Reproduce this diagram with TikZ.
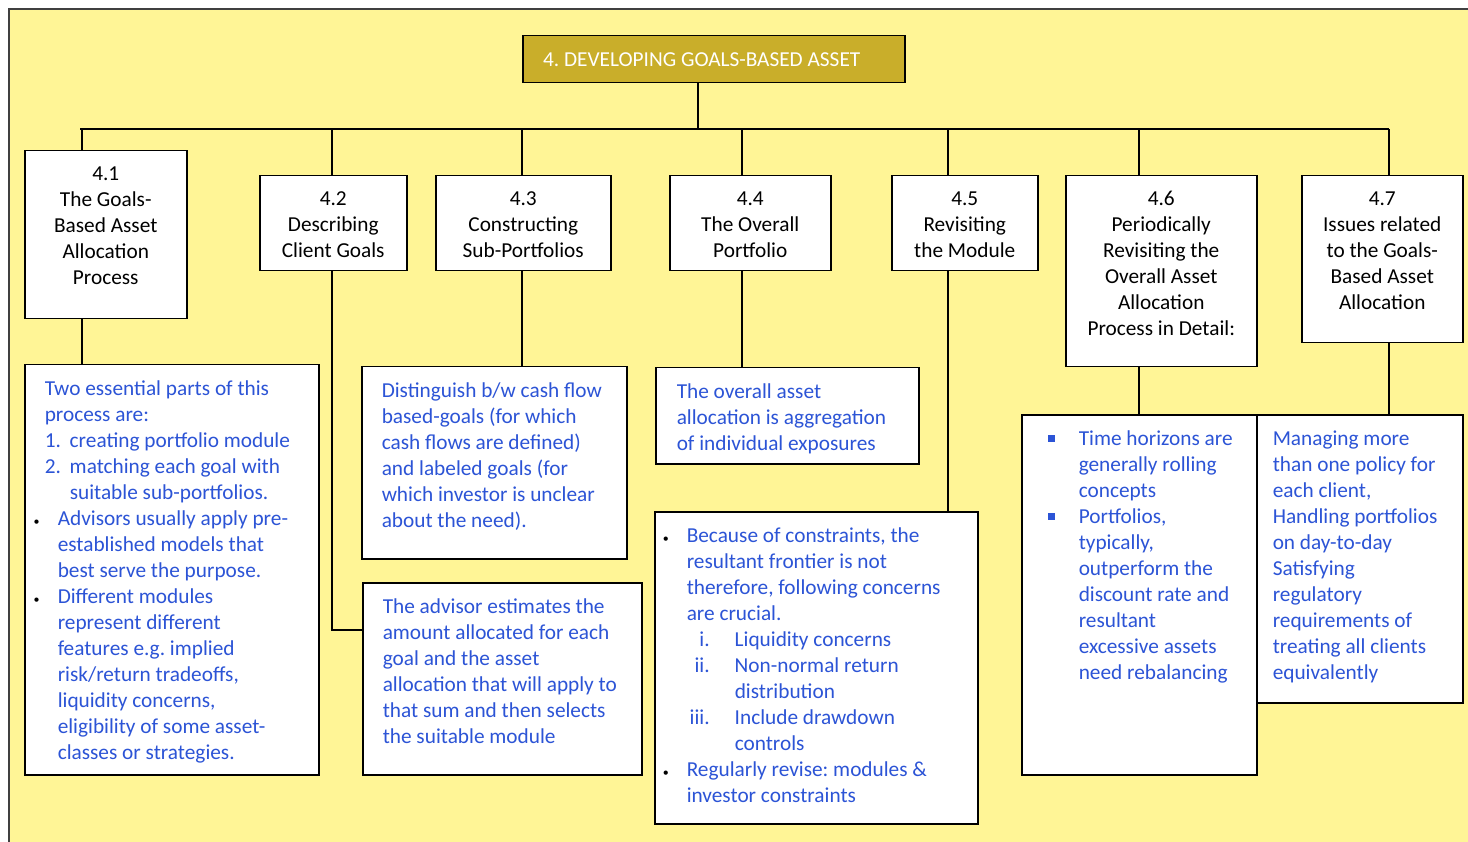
\documentclass[tikz,border=0pt]{standalone}
\usepackage{fontspec}
\setmainfont{Carlito}
\usetikzlibrary{calc}
\frenchspacing
\definecolor{bgyellow}{RGB}{255,245,150}
\definecolor{gold}{RGB}{201,174,42}
\definecolor{textblue}{RGB}{44,84,214}
\newcommand{\cardtext}[3]{\begin{minipage}[t][#2][t]{#1}\centering\rule{0pt}{30pt}#3\end{minipage}}
\newcommand{\detailtext}[3]{\begin{minipage}[t][#2][t]{#1}\raggedright\color{textblue}\rule{0pt}{31pt}#3\end{minipage}}
\newcommand{\blt}{\textcolor{black}{\fontsize{12}{12}\selectfont\textbullet}}
\newcommand{\sqblt}{\rule[3.5pt]{7pt}{7pt}}
\tikzset{
  card/.style={draw,line width=1.5pt,fill=white,anchor=north west,inner sep=0pt},
  link/.style={line width=1.6pt}
}
\begin{document}
\begin{tikzpicture}[x=1pt,y=-1pt,font=\fontsize{21.3}{26}\selectfont]
    \useasboundingbox (0,0) rectangle (1468,842);
    \fill[bgyellow] (9,9) rectangle (1468,842);
    \draw[line width=1.5pt,black!75] (9,842) -- (9,9) -- (1468,9);

    \node[card,fill=gold,text=white,minimum width=382pt,minimum height=47pt] (title) at (522,35) {\hspace*{-24pt}4. DEVELOPING GOALS-BASED ASSET};

    \node[card] (g41) at (24,150) {\cardtext{162pt}{168pt}{4.1\\The Goals-\\Based Asset\\Allocation\\Process}};
    \node[card] (g42) at (259,175) {\cardtext{147pt}{95pt}{4.2\\Describing\\Client Goals}};
    \node[card] (g43) at (435,175) {\cardtext{175pt}{95pt}{4.3\\Constructing\\Sub-Portfolios}};
    \node[card] (g44) at (669,175) {\cardtext{161pt}{95pt}{4.4\\The Overall\\Portfolio}};
    \node[card] (g45) at (891,175) {\cardtext{146pt}{95pt}{4.5\\Revisiting\\the Module}};
    \node[card] (g46) at (1065,175) {\cardtext{191pt}{191pt}{4.6\\Periodically\\Revisiting the\\Overall Asset\\Allocation\\Process in Detail:}};
    \node[card] (g47) at (1301,175) {\cardtext{161pt}{167pt}{4.7\\Issues related\\to the Goals-\\Based Asset\\Allocation}};

    \node[card] (d41) at (24,364) {\detailtext{294pt}{410pt}{%
      \hspace*{20pt}Two essential parts of this\\
      \hspace*{20pt}process are:\\
      \hspace*{20pt}\makebox[25pt][l]{1.}creating portfolio module\\
      \hspace*{20pt}\makebox[25pt][l]{2.}matching each goal with\\
      \hspace*{45pt}suitable sub-portfolios.\\
      \hspace*{9pt}\makebox[24pt][l]{\blt}Advisors usually apply pre-\\
      \hspace*{33pt}established models that\\
      \hspace*{33pt}best serve the purpose.\\
      \hspace*{9pt}\makebox[24pt][l]{\blt}Different modules\\
      \hspace*{33pt}represent different\\
      \hspace*{33pt}features e.g. implied\\
      \hspace*{33pt}risk/return tradeoffs,\\
      \hspace*{33pt}liquidity concerns,\\
      \hspace*{33pt}eligibility of some asset-\\
      \hspace*{33pt}classes or strategies.}};
    \node[card] (d43) at (361,366) {\detailtext{265pt}{192pt}{%
      \hspace*{20pt}Distinguish b/w cash flow\\
      \hspace*{20pt}based-goals (for which\\
      \hspace*{20pt}cash flows are defined)\\
      \hspace*{20pt}and labeled goals (for\\
      \hspace*{20pt}which investor is unclear\\
      \hspace*{20pt}about the need).}};
    \node[card] (d42) at (362,582) {\detailtext{279pt}{192pt}{%
      \hspace*{20pt}The advisor estimates the\\
      \hspace*{20pt}amount allocated for each\\
      \hspace*{20pt}goal and the asset\\
      \hspace*{20pt}allocation that will apply to\\
      \hspace*{20pt}that sum and then selects\\
      \hspace*{20pt}the suitable module}};
    \node[card] (d44) at (655,367) {\detailtext{263pt}{96pt}{%
      \hspace*{21pt}The overall asset\\
      \hspace*{21pt}allocation is aggregation\\
      \hspace*{21pt}of individual exposures}};
    \node[card] (d45) at (654,511) {\detailtext{323pt}{312pt}{%
      \hspace*{8pt}\makebox[24pt][l]{\blt}Because of constraints, the\\
      \hspace*{32pt}resultant frontier is not\\
      \hspace*{32pt}therefore, following concerns\\
      \hspace*{32pt}are crucial.\\
      \hspace*{35pt}\makebox[20pt][r]{i.}\hspace*{25pt}Liquidity concerns\\
      \hspace*{35pt}\makebox[20pt][r]{ii.}\hspace*{25pt}Non-normal return\\
      \hspace*{80pt}distribution\\
      \hspace*{35pt}\makebox[20pt][r]{iii.}\hspace*{25pt}Include drawdown\\
      \hspace*{80pt}controls\\
      \hspace*{8pt}\makebox[24pt][l]{\blt}Regularly revise: modules \&\\
      \hspace*{32pt}investor constraints}};
    \node[card] (d46) at (1021,414) {\detailtext{235pt}{360pt}{%
      \hspace*{26pt}\makebox[31pt][l]{\sqblt}Time horizons are\\
      \hspace*{57pt}generally rolling\\
      \hspace*{57pt}concepts\\
      \hspace*{26pt}\makebox[31pt][l]{\sqblt}Portfolios,\\
      \hspace*{57pt}typically,\\
      \hspace*{57pt}outperform the\\
      \hspace*{57pt}discount rate and\\
      \hspace*{57pt}resultant\\
      \hspace*{57pt}excessive assets\\
      \hspace*{57pt}need rebalancing}};
    \node[card] (d47) at (1256,414) {\detailtext{206pt}{288pt}{%
      \hspace*{16pt}Managing more\\
      \hspace*{16pt}than one policy for\\
      \hspace*{16pt}each client,\\
      \hspace*{16pt}Handling portfolios\\
      \hspace*{16pt}on day-to-day\\
      \hspace*{16pt}Satisfying\\
      \hspace*{16pt}regulatory\\
      \hspace*{16pt}requirements of\\
      \hspace*{16pt}treating all clients\\
      \hspace*{16pt}equivalently}};

    \coordinate (c4) at (698,129);
    \coordinate (barL) at (80,129);
    \coordinate (barR) at (1389,129);
    \coordinate (c41) at (82,129);
    \coordinate (c42) at (332,129);
    \coordinate (c43) at (522,129);
    \coordinate (c44) at (742,129);
    \coordinate (c45) at (948,129);
    \coordinate (c46) at (1139,129);
    \coordinate (c47) at (1389,129);

    \draw[link] (barL) -- (barR);
    \draw[link] (c4 |- title.south) -- (c4);
    \foreach \n in {41,43,44,45,46,47}
      \draw[link] (c\n) -- (c\n |- g\n.north) (c\n |- g\n.south) -- (c\n |- d\n.north);
    \draw[link] (c42) -- (c42 |- g42.north) (c42 |- g42.south) |- ($(d42.north west)+(0,48)$);
\end{tikzpicture}
\end{document}
